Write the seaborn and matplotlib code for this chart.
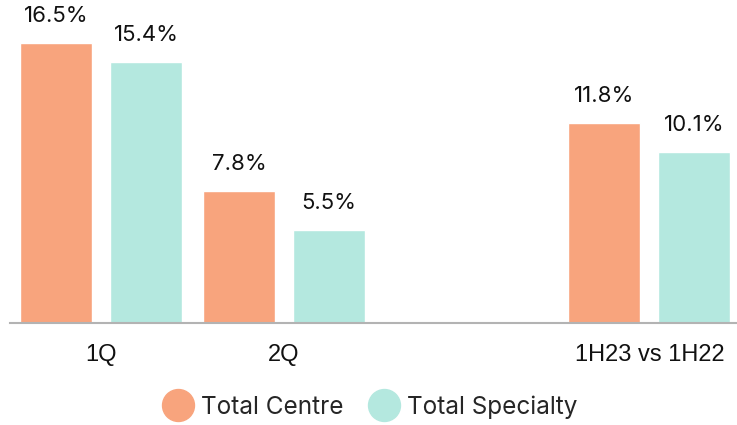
import pandas as pd
import matplotlib
matplotlib.use("Agg")
import matplotlib.pyplot as plt
from matplotlib.lines import Line2D
import seaborn as sns

sns.set_style("white")
plt.rcParams['font.family'] = ['Inter', 'DejaVu Sans']

# --------------------------
# Data
# --------------------------
categories = ["1Q", "2Q", "", "1H23 vs 1H22"]
periods = ["1Q", "2Q", "1H23 vs 1H22"]
total_centre = [16.5, 7.8, 11.8]
total_specialty = [15.4, 5.5, 10.1]
series = ["Total Centre", "Total Specialty"]
colors = ["#F8A47D", "#B4E8DF"]

df = pd.DataFrame({
    "period": periods * 2,
    "series": [series[0]] * 3 + [series[1]] * 3,
    "growth": total_centre + total_specialty,
})

# --------------------------
# Plot
# --------------------------
fig = plt.figure(figsize=(7.37, 4.25), dpi=100)
ax = fig.add_axes([10 / 737, 102 / 425, 727 / 737, 323 / 425])

sns.barplot(data=df, x="period", y="growth", hue="series", order=categories,
            hue_order=series, palette=colors, width=0.985, gap=0.2,
            saturation=1, legend=False, ax=ax)

for cont in ax.containers:
    ax.bar_label(cont, fmt="%.1f%%", padding=12, fontsize=16, color="#111111")

ax.set_xlim(-0.5, 3.48)
ax.set_ylim(0, 19.03)
ax.set_xlabel("")
ax.set_ylabel("")
ax.set_yticks([])
ax.set_xticks(range(len(categories)), categories, fontsize=17,
              family="Liberation Sans", color="#111111")
ax.tick_params(axis="x", length=0, pad=15)

for side in ["top", "right", "left"]:
    ax.spines[side].set_visible(False)
ax.spines["bottom"].set_color("#b3b3b3")
ax.spines["bottom"].set_linewidth(1.5)

handles = [Line2D([], [], marker="o", linestyle="", markersize=23,
                  markerfacecolor=c, markeredgecolor=c) for c in colors]
fig.legend(handles, series, loc="center", bbox_to_anchor=(370 / 737, 1 - 407 / 425),
           ncol=2, frameon=False, fontsize=17.5, handlelength=1.3,
           handletextpad=0.3, columnspacing=1.0)

fig.savefig("out.png", dpi=100)
